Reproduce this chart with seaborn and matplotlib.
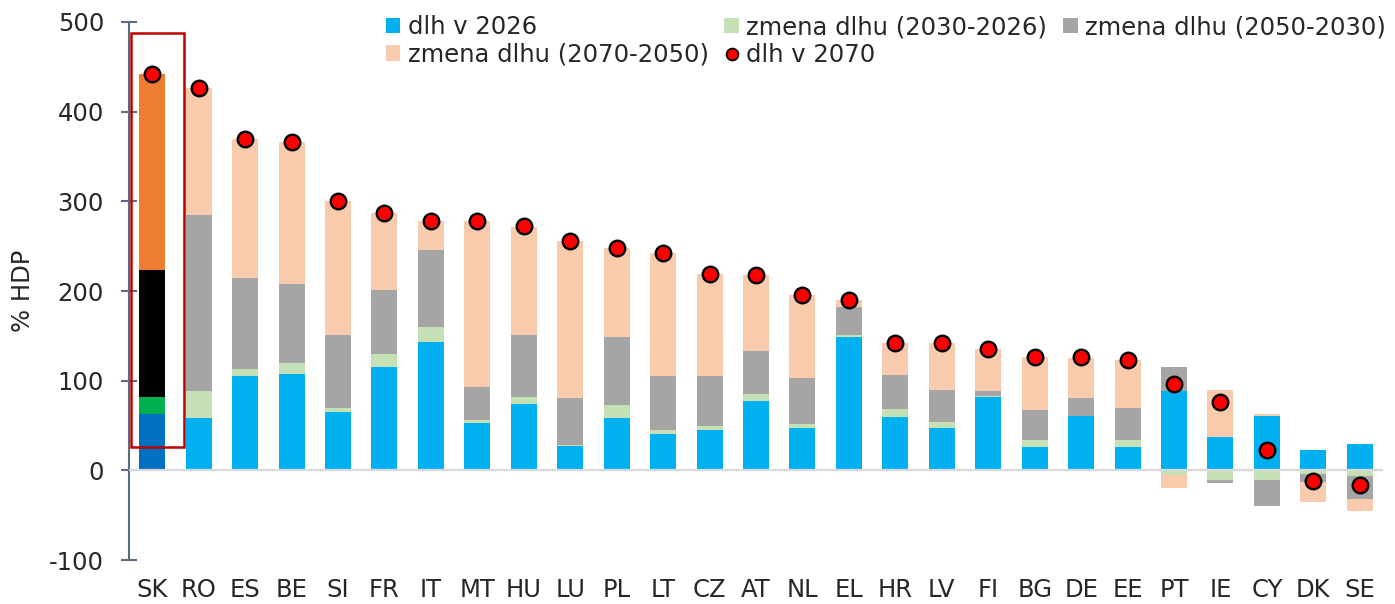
import numpy as np
import matplotlib
matplotlib.use("Agg")
import matplotlib.pyplot as plt
import seaborn as sns
from matplotlib.patches import Rectangle
from matplotlib.lines import Line2D

countries = ["SK", "RO", "ES", "BE", "SI", "FR", "IT", "MT", "HU", "LU", "PL", "LT", "CZ",
             "AT", "NL", "EL", "HR", "LV", "FI", "BG", "DE", "EE", "PT", "IE", "CY", "DK", "SE"]
dlh_2026 = [62.8, 58.4, 105, 107, 65, 115.7, 143.6, 52.5, 74.4, 27, 58.8, 40.5, 45,
            77.8, 47.6, 148.4, 59, 47, 81.5, 25.7, 60.6, 25.7, 88, 36.8, 61, 22.8, 29]
zmena_2030_2026 = [18.7, 29.6, 8.5, 12.4, 5, 14.3, 16.4, 3.3, 7.4, 1, 13.7, 4.1, 4,
                   7, 4.4, 2.3, 9, 7, 1.8, 8.3, 0.5, 8.3, -5, -11, -11, -4.5, -6]
zmena_2050_2030 = [141.5, 196.6, 101.5, 88.2, 80.7, 71, 86, 36.8, 68.9, 52.7, 76.3, 60.4, 56,
                   48.2, 50.7, 31.3, 38, 35.3, 5.7, 33, 19.6, 35.6, 27.4, -3, -29, -9, -26]
zmena_2070_2050 = [219, 141.4, 155, 158.4, 149.3, 86, 32, 185.4, 120.9, 175.3, 99.7, 137, 114,
                   85.4, 92.3, 7.7, 36, 52.7, 46, 59, 45, 53.2, -15, 53, 2, -22, -13]
dlh_2070 = [442, 426, 370, 366, 300, 287, 278, 278, 272, 256, 248, 242, 219,
            218, 195, 190, 142, 142, 135, 126, 126, 123, 96, 76, 23, -12, -16]

series_labels = ["dlh v 2026", "zmena dlhu (2030-2026)", "zmena dlhu (2050-2030)",
                 "zmena dlhu (2070-2050)"]
dot_label = "dlh v 2070"
colors = ["#00B0F0", "#C5E0B4", "#A5A5A5", "#F8CBAD"]
sk_colors = ["#0070C0", "#00B050", "#000000", "#ED7D31"]
highlight = "SK"

sns.set_style("white")
plt.rcParams["font.family"] = ["DejaVu Sans"]
plt.rcParams["axes.unicode_minus"] = False

FS = 17.5
fig = plt.figure(figsize=(13.95, 6.04), dpi=100)
ax = fig.add_axes([0.0925, 0.0728, 0.8989, 0.8908])

series = [dlh_2026, zmena_2030_2026, zmena_2050_2030, zmena_2070_2050]
n = len(countries)
pos_base = np.zeros(n)
neg_base = np.zeros(n)
width = 0.56
handles = []
for vals, col, skc, lab in zip(series, colors, sk_colors, series_labels):
    v = np.array(vals, dtype=float)
    bottom = np.where(v >= 0, pos_base, neg_base)
    cols = [skc if c == highlight else col for c in countries]
    ax.bar(countries, v, bottom=bottom, width=width, color=cols, edgecolor="none", zorder=2)
    pos_base += np.where(v >= 0, v, 0)
    neg_base += np.where(v < 0, v, 0)
    handles.append(Rectangle((0, 0), 1, 1, facecolor=col, edgecolor="none", label=lab))

ax.axhline(0, color="#D9D9D9", lw=1.6, zorder=3)

sns.scatterplot(x=countries, y=dlh_2070, ax=ax, color="#FF0000", edgecolor="black",
                linewidth=1.7, s=125, zorder=5, legend=False)

# highlight frame around SK
ax.add_patch(Rectangle((-0.45, 25.7), 1.13, 462.3, fill=False, edgecolor="#C00000",
                       lw=1.8, zorder=6, clip_on=False))

ax.set_xlim(-0.5, n - 0.5)
ax.set_ylim(-100, 500)
ax.set_yticks(np.arange(-100, 501, 100))
ax.set_ylabel("% HDP", fontsize=FS, labelpad=10)

for s in ["top", "right", "bottom"]:
    ax.spines[s].set_visible(False)
ax.spines["left"].set_color("#5B6B80")
ax.spines["left"].set_linewidth(1.5)
ax.tick_params(axis="y", direction="inout", length=12, width=1.5, color="#5B6B80",
               labelsize=FS, pad=12, left=True)
ax.tick_params(axis="x", length=0, labelsize=FS, pad=13)

dot_handle = Line2D([], [], marker="o", linestyle="none", markerfacecolor="#FF0000",
                    markeredgecolor="black", markersize=8.5, markeredgewidth=1.3,
                    label=dot_label)
# column-wise order so rows read: [2026, 2030-2026, 2050-2030] / [2070-2050, dlh 2070]
leg_handles = [handles[0], handles[3], handles[1], dot_handle, handles[2]]
fig.legend(handles=leg_handles, ncol=3, loc="upper left", bbox_to_anchor=(0.2765, 0.975),
           frameon=False, fontsize=FS, handlelength=0.6, handleheight=0.6,
           handletextpad=0.3, columnspacing=0.65, labelspacing=0.15,
           borderpad=0, borderaxespad=0)

fig.savefig("out.png", dpi=100)
